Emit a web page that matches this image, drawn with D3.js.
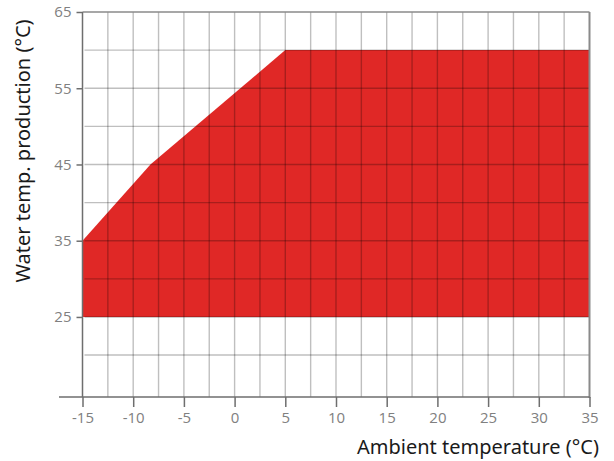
<!DOCTYPE html>
<html><head><meta charset="utf-8">
<script src="https://cdn.jsdelivr.net/npm/d3@7"></script>
<style>
html,body{margin:0;padding:0;background:#fff;}
svg{display:block;}
</style></head>
<body>
<svg id="chart" width="614" height="461"></svg>
<script>
// Data
const ambientTemps = [-15, -8.3, 5, 35, 35, -15];   // x of operating envelope vertices (°C)
const waterTemps   = [35, 45, 60, 60, 25, 25];       // y of operating envelope vertices (°C)
const xTickValues  = [-15, -10, -5, 0, 5, 10, 15, 20, 25, 30, 35];
const yTickValues  = [25, 35, 45, 55, 65];
const xGridValues  = d3.range(-12.5, 35, 2.5);
const yGridValues  = [20, 25, 30, 35, 40, 45, 50, 55, 60];

const svg = d3.select("#chart");
const x = d3.scaleLinear().domain([-15, 35]).range([82.5, 589.5]);
const y = d3.scaleLinear().domain([14.5, 65]).range([397, 12]);

// Envelope fill
const pts = ambientTemps.map((v, i) => [x(v), y(waterTemps[i])]);
svg.append("path")
  .attr("d", d3.line()(pts) + "Z")
  .attr("fill", "#e02826");

// Grid lines (semi-transparent so they darken over the fill)
const grid = svg.append("g").attr("stroke", "rgba(0,0,0,0.25)").attr("stroke-width", 1.4);
grid.selectAll("line.v").data(xGridValues).join("line")
  .attr("x1", d => x(d)).attr("x2", d => x(d))
  .attr("y1", y(65)).attr("y2", y(14.5));
grid.selectAll("line.h").data(yGridValues).join("line")
  .attr("x1", x(-15) + 2).attr("x2", x(35))
  .attr("y1", d => y(d)).attr("y2", d => y(d));

// Frame: top and right
svg.append("line").attr("x1", x(-15)).attr("x2", x(35)).attr("y1", y(65)).attr("y2", y(65))
  .attr("stroke", "#8a8a8a").attr("stroke-width", 1.5);
svg.append("line").attr("x1", x(35)).attr("x2", x(35)).attr("y1", y(65)).attr("y2", y(14.5) + 1)
  .attr("stroke", "#8a8a8a").attr("stroke-width", 2);

// Axes
const axisColor = "#6e6e6e";
const labelColor = "#808080";
const tickFont = "'Open Sans', sans-serif";
const fmt = d => String(d);

const xAxis = svg.append("g").attr("transform", `translate(0,${y(14.5)})`)
  .call(d3.axisBottom(x).tickValues(xTickValues).tickFormat(fmt).tickSize(10).tickPadding(5).tickSizeOuter(0));
xAxis.select(".domain").remove();
xAxis.append("line").attr("x1", 59).attr("x2", x(35)).attr("y1", 0).attr("y2", 0)
  .attr("stroke", axisColor).attr("stroke-width", 1.5);
xAxis.selectAll(".tick line").attr("stroke", axisColor).attr("stroke-width", 1.5);
xAxis.selectAll(".tick text").attr("fill", labelColor).attr("font-size", 15)
  .attr("font-family", tickFont);

const yAxis = svg.append("g").attr("transform", `translate(${x(-15)},0)`)
  .call(d3.axisLeft(y).tickValues(yTickValues).tickFormat(fmt).tickSize(6).tickPadding(5).tickSizeOuter(0));
yAxis.select(".domain").remove();
yAxis.append("line").attr("x1", 0).attr("x2", 0).attr("y1", y(65)).attr("y2", y(14.5))
  .attr("stroke", axisColor).attr("stroke-width", 1.5);
yAxis.selectAll(".tick line").attr("stroke", axisColor).attr("stroke-width", 1.5);
yAxis.selectAll(".tick text").attr("fill", labelColor).attr("font-size", 15)
  .attr("font-family", tickFont);

// Axis titles
const titleFont = "'Noto Sans', sans-serif";
svg.append("text").text("Ambient temperature (°C)")
  .attr("x", 599).attr("y", 454).attr("text-anchor", "end")
  .attr("font-family", titleFont).attr("font-size", 20).attr("fill", "#1a1a1a");
svg.append("text").text("Water temp. production (°C)")
  .attr("transform", "translate(30,151) rotate(-90)").attr("text-anchor", "middle")
  .attr("font-family", titleFont).attr("font-size", 20).attr("fill", "#1a1a1a");
</script>
</body></html>
